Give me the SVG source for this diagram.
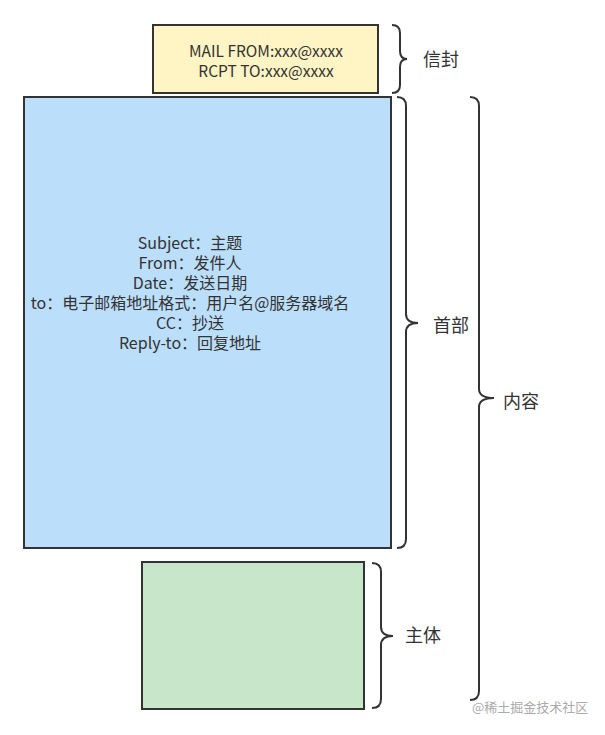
<svg xmlns="http://www.w3.org/2000/svg" width="605" height="735" viewBox="0 0 605 735">
<style>
.box{stroke:#333;stroke-width:2}
.brace{fill:none;stroke:#333;stroke-width:2}
.t{font-family:"Noto Sans CJK SC","Liberation Sans",sans-serif;font-size:16px;fill:#333;text-anchor:middle}
.ty{font-size:15.5px}
.lbl{font-family:"Noto Sans CJK SC","Liberation Sans",sans-serif;font-size:18px;fill:#333}
.wm{font-family:"Noto Sans CJK SC","Liberation Sans",sans-serif;font-size:13px;fill:#aaa}
</style>
<rect width="605" height="735" fill="#fff"/>
<g id="envelope">
<rect class="box" x="153" y="25" width="225" height="68" fill="#fff4c4"/>
<text class="t ty" x="266" y="57">MAIL FROM:xxx@xxxx</text>
<text class="t ty" x="266" y="77">RCPT TO:xxx@xxxx</text>
</g>
<g id="header">
<rect class="box" x="24" y="97" width="367" height="451" fill="#bbdefb"/>
<text class="t" x="190" y="249">Subject：主题</text>
<text class="t" x="190" y="269">From：发件人</text>
<text class="t" x="190" y="289">Date：发送日期</text>
<text class="t" x="190" y="309">to：电子邮箱地址格式：用户名@服务器域名</text>
<text class="t" x="190" y="329">CC：抄送</text>
<text class="t" x="190" y="349">Reply-to：回复地址</text>
</g>
<g id="body">
<rect class="box" x="142" y="562" width="222" height="147" fill="#c8e6c9"/>
</g>
<g id="connectors">
<path class="brace" d="M392 25 Q400 25 400 33 L400 51 Q400 59 407 59 Q400 59 400 67 L400 85 Q400 93 392 93"/>
<path class="brace" d="M397 97 Q406 97 406 106 L406 314 Q406 323 418 323 Q406 323 406 332 L406 539 Q406 548 397 548"/>
<path class="brace" d="M470 97 Q479 97 479 106 L479 389 Q479 398 494 398 Q479 398 479 407 L479 691 Q479 700 470 700"/>
<path class="brace" d="M372 563 Q381 563 381 572 L381 627 Q381 636 393 636 Q381 636 381 645 L381 699 Q381 708 372 708"/>
</g>
<g id="labels">
<text class="lbl" x="423" y="66">信封</text>
<text class="lbl" x="433" y="332">首部</text>
<text class="lbl" x="503" y="408">内容</text>
<text class="lbl" x="405" y="642">主体</text>
</g>
<text class="wm" x="472" y="712">@稀土掘金技术社区</text>
</svg>
